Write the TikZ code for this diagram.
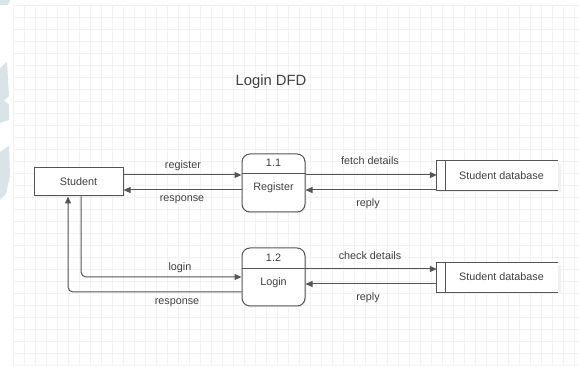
\documentclass[tikz,border=0pt]{standalone}
\usepackage{fontspec}
\setmainfont{Liberation Sans}
\usetikzlibrary{arrows.meta,shadows,calc}
\definecolor{ink}{HTML}{555555}
\definecolor{txt}{HTML}{404040}
\definecolor{gridc}{HTML}{F1F1F1}
\definecolor{wm}{HTML}{D9E4E7}
\tikzset{
  entity/.style={draw=ink,line width=1pt,fill=white,minimum width=89pt,minimum height=28pt,inner sep=0pt,
    drop shadow={shadow xshift=1.5pt,shadow yshift=-1.5pt,fill=black!12}},
  proc/.style={draw=ink,line width=1pt,fill=white,rounded corners=8pt,minimum width=63pt,minimum height=58pt,inner sep=0pt,
    drop shadow={shadow xshift=1.5pt,shadow yshift=-1.5pt,fill=black!12}},
  store/.style={minimum width=121pt,minimum height=29pt,inner sep=0pt},
  flow/.style={draw=ink,line width=1pt,-{Triangle[length=7pt,width=6pt]}},
  lbl/.style={text=txt,font=\fontsize{10.8}{12}\selectfont,inner sep=0pt},
}
\begin{document}
\begin{tikzpicture}[x=1pt,y=-1pt]
\useasboundingbox (0,0) rectangle (579,366);
\fill[white] (0,0) rectangle (579,366);
% watermark fragments
\fill[wm] (0,0) -- (10,0) -- (8,5) -- (0,5) -- cycle;
\fill[wm] (0,68) -- (7,62) -- (9,96) -- (4,101) -- (9,104) -- (9,120) -- (0,123) -- cycle;
\fill[wm] (0,152) -- (9,146) -- (10,176) -- (6,194) -- (0,200) -- cycle;
% grid
\foreach \i in {0,...,51} { \draw[gridc,line width=0.6pt] ({13.3+11*\i},5) -- ({13.3+11*\i},366); }
\foreach \j in {0,...,30} { \draw[gridc,line width=0.6pt] (13,{5+12*\j}) -- (579,{5+12*\j}); }
% title
\node[text=txt,font=\fontsize{14.8}{16}\selectfont,inner sep=0pt] (title) at (271,82) {Login DFD};
% entity
\node[entity] (stu) at (78.5,182) {};
\node[lbl] (stutxt) at (78.5,182) {Student};
% processes
\node[proc] (reg) at (273.5,183) {};
\draw[ink,line width=1pt] (reg.west |- 0,174) -- (reg.east |- 0,174);
\node[lbl] (regnum) at (273.5,163) {1.1};
\node[lbl] (regtxt) at (273.5,188) {Register};
\node[proc] (log) at (273.5,277) {};
\draw[ink,line width=1pt] (log.west |- 0,269) -- (log.east |- 0,269);
\node[lbl] (lognum) at (273.5,258) {1.2};
\node[lbl] (logtxt) at (273.5,283) {Login};
% data stores
\node[store] (db1) at (497.5,175.5) {};
\fill[black!6] (439,163) rectangle (561,192);
\fill[white] (db1.north west) rectangle (db1.south east);
\draw[ink,line width=1pt] (db1.north east) -- (db1.north west) -- (db1.south west) -- (db1.south east);
\draw[ink,line width=1pt] (445,0 |- db1.north) -- (445,0 |- db1.south);
\node[lbl] (db1txt) at (501.5,176) {Student database};
\node[store] (db2) at (497.5,277.5) {};
\fill[black!6] (439,265) rectangle (561,294);
\fill[white] (db2.north west) rectangle (db2.south east);
\draw[ink,line width=1pt] (db2.north east) -- (db2.north west) -- (db2.south west) -- (db2.south east);
\draw[ink,line width=1pt] (445,0 |- db2.north) -- (445,0 |- db2.south);
\node[lbl] (db2txt) at (501.5,277) {Student database};
% flows: student <-> register
\draw[flow] (stu.east |- 0,175) -- (reg.west |- 0,175);
\node[lbl] (l1) at (183,166) {register};
\draw[flow] (reg.west |- 0,190) -- (stu.east |- 0,190);
\node[lbl] (l2) at (182,200) {response};
% register <-> db1
\draw[flow] (reg.east |- 0,175) -- (db1.west |- 0,175);
\node[lbl] (l3) at (370,161) {fetch details};
\draw[flow] (db1.west |- 0,190) -- (reg.east |- 0,190);
\node[lbl] (l4) at (368,204) {reply};
% student <-> login
\draw[flow,rounded corners=5pt] (stu.south -| 81,0) |- (log.west |- 0,277);
\node[lbl] (l5) at (180,268) {login};
\draw[flow,rounded corners=5pt] (log.west |- 0,292) -| (stu.south -| 68,0);
\node[lbl] (l6) at (177,303) {response};
% login <-> db2
\draw[flow] (log.east |- 0,269) -- (db2.west |- 0,269);
\node[lbl] (l7) at (370,256) {check details};
\draw[flow] (db2.west |- 0,284) -- (log.east |- 0,284);
\node[lbl] (l8) at (368,298) {reply};
\end{tikzpicture}
\end{document}
